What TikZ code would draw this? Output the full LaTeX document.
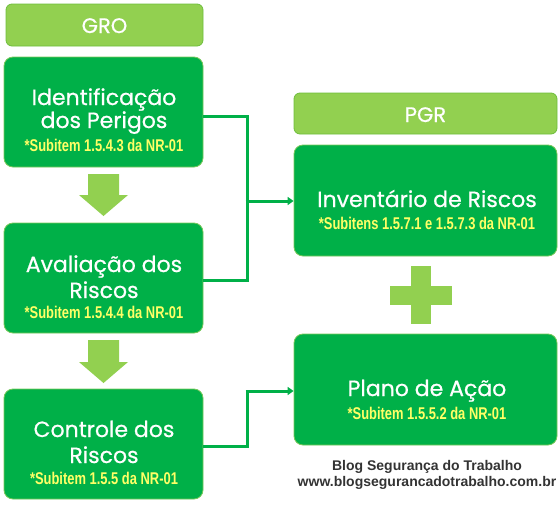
\documentclass[tikz,border=0pt]{standalone}
\usepackage{fontspec}
\usetikzlibrary{arrows.meta}
\newfontfamily\titlefont[FakeBold=0.6]{Poppins}
\newfontfamily\subfont[FakeStretch=0.76]{Liberation Sans Bold}
\newfontfamily\footfont{Liberation Sans Bold}
\definecolor{dkgreen}{RGB}{0,176,72}
\definecolor{ltgreen}{RGB}{146,208,80}
\definecolor{hdrborder}{RGB}{110,190,60}
\definecolor{boxborder}{RGB}{120,200,90}
\definecolor{subyellow}{RGB}{255,255,102}
\definecolor{foot}{RGB}{51,51,51}
\tikzset{
  header/.style={draw=hdrborder, line width=0.8pt, fill=ltgreen, rounded corners=6pt, inner sep=0pt},
  mainbox/.style={draw=boxborder, line width=0.8pt, fill=dkgreen, rounded corners=9pt, inner sep=0pt},
  ttl/.style={anchor=base, text=white, font=\titlefont\fontsize{22}{22}\selectfont, inner sep=0pt},
  hdrtxt/.style={anchor=base, text=white, font=\titlefont\fontsize{21}{21}\selectfont, inner sep=0pt},
  sub/.style={anchor=base, text=subyellow, font=\subfont\fontsize{17}{17}\selectfont, inner sep=0pt},
  foottxt/.style={anchor=base, text=foot, font=\footfont\fontsize{14}{14}\selectfont, inner sep=0pt},
  conn/.style={draw=dkgreen, line width=3pt},
  blockarrow/.style={fill=ltgreen}
}
\begin{document}
\begin{tikzpicture}[x=1pt,y=-1pt]
\useasboundingbox (0,0) rectangle (560,504);
% headers
\node[header, minimum width=197pt, minimum height=42pt] (gro) at (104.5,25) {};
\node[hdrtxt] (grot) at (104.5,33) {GRO};
\node[header, minimum width=263pt, minimum height=41pt] (pgr) at (425.5,113.5) {};
\node[hdrtxt] (pgrt) at (425.5,122) {PGR};
% left boxes
\node[mainbox, minimum width=199pt, minimum height=110pt] (idf) at (103.5,112) {};
\node[ttl] (idf1) at (104,105) {Identificação};
\node[ttl] (idf2) at (104,128) {dos Perigos};
\node[sub] (idf3) at (104,151) {*Subitem 1.5.4.3 da NR-01};

\node[mainbox, minimum width=199pt, minimum height=110pt] (ava) at (103.5,278) {};
\node[ttl] (ava1) at (104,272) {Avaliação dos};
\node[ttl] (ava2) at (104,298) {Riscos};
\node[sub] (ava3) at (104,318) {*Subitem 1.5.4.4 da NR-01};

\node[mainbox, minimum width=199pt, minimum height=110pt] (ctl) at (103.5,444) {};
\node[ttl] (ctl1) at (104,437) {Controle dos};
\node[ttl] (ctl2) at (104,463) {Riscos};
\node[sub] (ctl3) at (104,484) {*Subitem 1.5.5 da NR-01};

% right boxes
\node[mainbox, minimum width=263pt, minimum height=111pt] (inv) at (425.5,200.5) {};
\node[ttl] (inv1) at (427,207) {Inventário de Riscos};
\node[sub] (inv2) at (427,229) {*Subitens 1.5.7.1 e 1.5.7.3 da NR-01};

\node[mainbox, minimum width=263pt, minimum height=111pt] (pla) at (425.5,389.5) {};
\node[ttl] (pla1) at (427,396) {Plano de Ação};
\node[sub] (pla2) at (427,419) {*Subitem 1.5.5.2 da NR-01};

% block arrows down
\fill[blockarrow] (88,174) -- (119,174) -- (119,195) -- (128,195) -- (103.5,216) -- (79,195) -- (88,195) -- cycle;
\fill[blockarrow] (88,340) -- (119,340) -- (119,362) -- (128,362) -- (103.5,383) -- (79,362) -- (88,362) -- cycle;

% plus
\fill[ltgreen] (411,266) rectangle (431,324);
\fill[ltgreen] (390,286) rectangle (452,305);

% connectors
\coordinate (j1) at (247,201);
\coordinate (j2) at (247,391);
\draw[conn] ([yshift=-4pt]idf.east) -| (j1);
\draw[conn] ([yshift=-2pt]ava.east) -| (j1);
\draw[conn, -{Triangle[length=6pt,width=8pt]}] ([xshift=-1.5pt]j1) -- (inv.west |- j1);
\draw[conn] ([yshift=-2pt]ctl.east) -| (j2);
\draw[conn, -{Triangle[length=6pt,width=8pt]}] ([xshift=-1.5pt]j2) -- (pla.west |- j2);

% footer
\node[foottxt] (f1) at (427,470) {Blog Segurança do Trabalho};
\node[foottxt] (f2) at (427,486) {www.blogsegurancadotrabalho.com.br};
\end{tikzpicture}
\end{document}
